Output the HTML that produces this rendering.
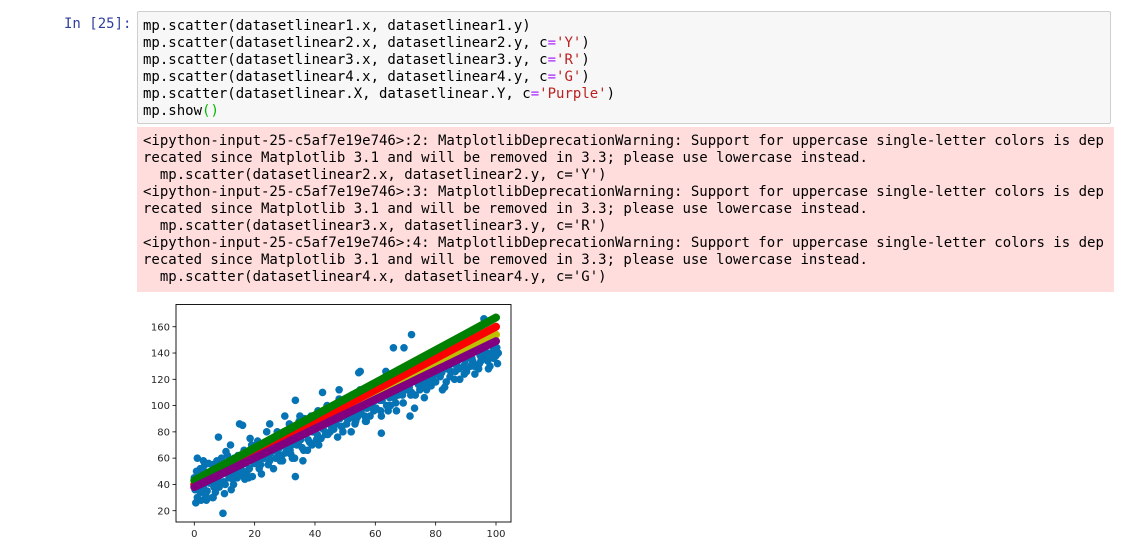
<!DOCTYPE html>
<html><head><meta charset="utf-8"><style>
body{margin:0;width:1135px;height:557px;background:#fff;overflow:hidden;position:relative;font-family:"DejaVu Sans Mono","Liberation Mono",monospace;}
.prompt{position:absolute;left:64px;top:16px;color:#303f9f;font-size:14px;line-height:17px;}
.code{position:absolute;left:137px;top:11px;width:974px;height:113px;background:#f7f7f7;border:1px solid #cfcfcf;border-radius:2px;box-sizing:border-box;}
pre{margin:0;font-family:"DejaVu Sans Mono","Liberation Mono",monospace;font-size:14px;line-height:17px;white-space:pre;}
.code pre{position:absolute;left:5px;top:6px;color:#000;}
.s{color:#ba2121}.o{color:#aa22ff}.p{color:#0b0}
.warn{position:absolute;left:137px;top:127px;width:977px;height:165px;background:#fdd;}
.warn pre{position:absolute;left:6px;top:6px;color:#000;}
svg{position:absolute;left:0;top:0}
</style></head><body>
<div class="prompt">In [25]:</div>
<div class="code"><pre>mp.scatter(datasetlinear1.x, datasetlinear1.y)
mp.scatter(datasetlinear2.x, datasetlinear2.y, c<span class="o">=</span><span class="s">'Y'</span>)
mp.scatter(datasetlinear3.x, datasetlinear3.y, c<span class="o">=</span><span class="s">'R'</span>)
mp.scatter(datasetlinear4.x, datasetlinear4.y, c<span class="o">=</span><span class="s">'G'</span>)
mp.scatter(datasetlinear.X, datasetlinear.Y, c<span class="o">=</span><span class="s">'Purple'</span>)
mp.show<span class="p">()</span></pre></div>
<div class="warn"><pre>&lt;ipython-input-25-c5af7e19e746&gt;:2: MatplotlibDeprecationWarning: Support for uppercase single-letter colors is dep
recated since Matplotlib 3.1 and will be removed in 3.3; please use lowercase instead.
  mp.scatter(datasetlinear2.x, datasetlinear2.y, c='Y')
&lt;ipython-input-25-c5af7e19e746&gt;:3: MatplotlibDeprecationWarning: Support for uppercase single-letter colors is dep
recated since Matplotlib 3.1 and will be removed in 3.3; please use lowercase instead.
  mp.scatter(datasetlinear3.x, datasetlinear3.y, c='R')
&lt;ipython-input-25-c5af7e19e746&gt;:4: MatplotlibDeprecationWarning: Support for uppercase single-letter colors is dep
recated since Matplotlib 3.1 and will be removed in 3.3; please use lowercase instead.
  mp.scatter(datasetlinear4.x, datasetlinear4.y, c='G')</pre></div>
<svg id="chart" width="1135" height="557"></svg>
<script>
const blueX=[0,1,2,3,4,5,6,7,8,9,10,11,12,13,14,15,16,17,18,19,20,21,22,23,24,25,26,27,28,29,30,31,32,33,34,35,36,37,38,39,40,41,42,43,44,45,46,47,48,49,50,51,52,53,54,55,56,57,58,59,60,61,62,63,64,65,66,67,68,69,70,71,72,73,74,75,76,77,78,79,80,81,82,83,84,85,86,87,88,89,90,91,92,93,94,95,96,97,98,99,100];
const blueY1=[45,30,52,38,48,41,55,34,47,60,33,62,50,40,58,47,85,56,45,70,
60,73,55,66,80,58,71,60,76,62,92,74,63,82,70,78,58,88,80,70,
84,96,75,88,100,80,93,86,105,84,95,100,80,104,91,112,98,88,110,100,
104,118,92,108,122,100,112,96,120,108,116,130,110,98,124,118,128,112,132,120,
118,138,125,114,134,126,140,130,120,138,128,146,136,124,142,134,150,140,130,145,138];
const blueY2=[40,48,36,55,44,50,38,58,42,52,65,45,56,48,62,52,66,50,75,58,
64,52,70,62,55,74,66,80,58,72,68,86,60,104,72,84,90,66,82,92,
74,86,110,78,92,84,98,76,100,92,86,104,96,88,125,100,92,114,106,96,
116,104,110,126,100,114,124,108,118,144,112,92,126,120,132,116,124,134,115,128,
136,122,130,118,140,132,126,146,136,124,138,130,142,150,132,140,136,128,148,142,132];
const blueY3=[36,44,28,50,35,46,30,42,38,48,40,53,36,60,45,55,48,62,52,46,
56,66,48,60,70,64,52,74,68,58,64,78,70,60,84,74,66,88,72,80,
92,70,84,96,78,88,82,100,90,80,98,90,108,86,100,94,104,98,92,112,
98,110,104,114,96,118,106,122,112,102,126,114,120,108,116,128,106,122,126,136,
124,130,112,136,128,140,120,134,144,130,126,140,134,144,128,138,142,134,140,136,144];
const blueY4=[50,38,46,32,56,44,48,40,52,42,56,48,44,54,50,62,44,58,64,56,
68,58,62,72,60,68,76,64,70,80,74,66,84,76,88,68,80,74,92,86,
78,90,82,92,86,96,88,94,84,102,90,96,92,100,94,106,88,100,116,104,
110,96,114,100,106,112,102,116,110,124,118,108,122,130,112,126,120,116,130,124,
130,126,134,128,122,136,132,128,138,134,140,136,130,144,138,146,140,136,150,138,140];
const blueExtraX=[9.5,33.5,72,1,0.5,15,8,66,96,35,48,55,62,80,88,92,4,12,25,2,3,6];
const blueExtraY=[18,46,154,60,26,86,76,144,166,92,112,126,79,142,150,154,28,70,86,34,58,30];
const lineX=[0,5,10,15,20,25,30,35,40,45,50,55,60,65,70,75,80,85,90,95,100];
const yellowY=[40,45.7,51.4,57.1,62.8,68.5,74.2,79.9,85.6,91.3,97,102.7,108.4,114.1,119.8,125.5,131.2,136.9,142.6,148.3,154];
const redY=[40,46,52,58,64,70,76,82,88,94,100,106,112,118,124,130,136,142,148,154,160];
const greenY=[43,49.2,55.4,61.6,67.8,74,80.2,86.4,92.6,98.8,105,111.2,117.4,123.6,129.8,136,142.2,148.4,154.6,160.8,167];
const purpleY=[38,43.55,49.1,54.65,60.2,65.75,71.3,76.85,82.4,87.95,93.5,99.05,104.6,110.15,115.7,121.25,126.8,132.35,137.9,143.45,149];
const xTicks=[0,20,40,60,80,100];
const yTicks=[20,40,60,80,100,120,140,160];

const NS='http://www.w3.org/2000/svg';
const svg=document.getElementById('chart');
const L=176,R=511,T=304.5,B=522;
const sx=v=>194.3+v*3.017;
const sy=v=>510.7-(v-20)*1.314;
function mk(tag,attrs){const e=document.createElementNS(NS,tag);for(const k in attrs)e.setAttribute(k,attrs[k]);svg.appendChild(e);return e;}
const defs=mk('defs',{});
const clip=document.createElementNS(NS,'clipPath');clip.setAttribute('id','cp');defs.appendChild(clip);
const cr=document.createElementNS(NS,'rect');cr.setAttribute('x',L);cr.setAttribute('y',T);cr.setAttribute('width',R-L);cr.setAttribute('height',B-T);clip.appendChild(cr);
const g=mk('g',{'clip-path':'url(#cp)'});


function dot(x,y,c,name){const e=document.createElementNS(NS,'circle');e.setAttribute('cx',sx(x));e.setAttribute('cy',sy(y));e.setAttribute('r',3.8);e.setAttribute('fill',c);


g.appendChild(e);}
const BLUE='#0673b5';
blueX.forEach((x,i)=>dot(x,blueY1[i],BLUE,'blue-point'));
blueX.forEach((x,i)=>dot(x+0.5,blueY2[i],BLUE,'blue-point'));
blueX.forEach((x,i)=>dot(x+0.25,blueY3[i],BLUE,'blue-point'));
blueX.forEach((x,i)=>dot(x+0.75,blueY4[i],BLUE,'blue-point'));
blueExtraX.forEach((x,i)=>dot(x,blueExtraY[i],BLUE,'blue-point'));
function line(ys,c,name){const e=document.createElementNS(NS,'polyline');
e.setAttribute('points',lineX.map((x,i)=>sx(x)+','+sy(ys[i])).join(' '));
e.setAttribute('fill','none');e.setAttribute('stroke',c);e.setAttribute('stroke-width',8);e.setAttribute('stroke-linecap','round');e.setAttribute('stroke-linejoin','round');


g.appendChild(e);}
line(yellowY,'#bfbf00','yellow-series');
line(redY,'#ff0000','red-series');
line(greenY,'#008000','green-series');
line(purpleY,'#800080','purple-series');
const frame=mk('rect',{x:L,y:T,width:R-L,height:B-T,fill:'none',stroke:'#000','stroke-width':0.9});


xTicks.forEach(v=>{const t=mk('line',{x1:sx(v),x2:sx(v),y1:B,y2:B+3.5,stroke:'#000','stroke-width':0.8});


const l=mk('text',{x:sx(v),y:B+15,'text-anchor':'middle','font-size':10,fill:'#262626','font-family':'DejaVu Sans, sans-serif'});l.textContent=v;

});
yTicks.forEach(v=>{const t=mk('line',{x1:L-3.5,x2:L,y1:sy(v),y2:sy(v),stroke:'#000','stroke-width':0.8});


const l=mk('text',{x:L-6,y:sy(v)+3.6,'text-anchor':'end','font-size':10,fill:'#262626','font-family':'DejaVu Sans, sans-serif'});l.textContent=v;

});
</script>
</body></html>
